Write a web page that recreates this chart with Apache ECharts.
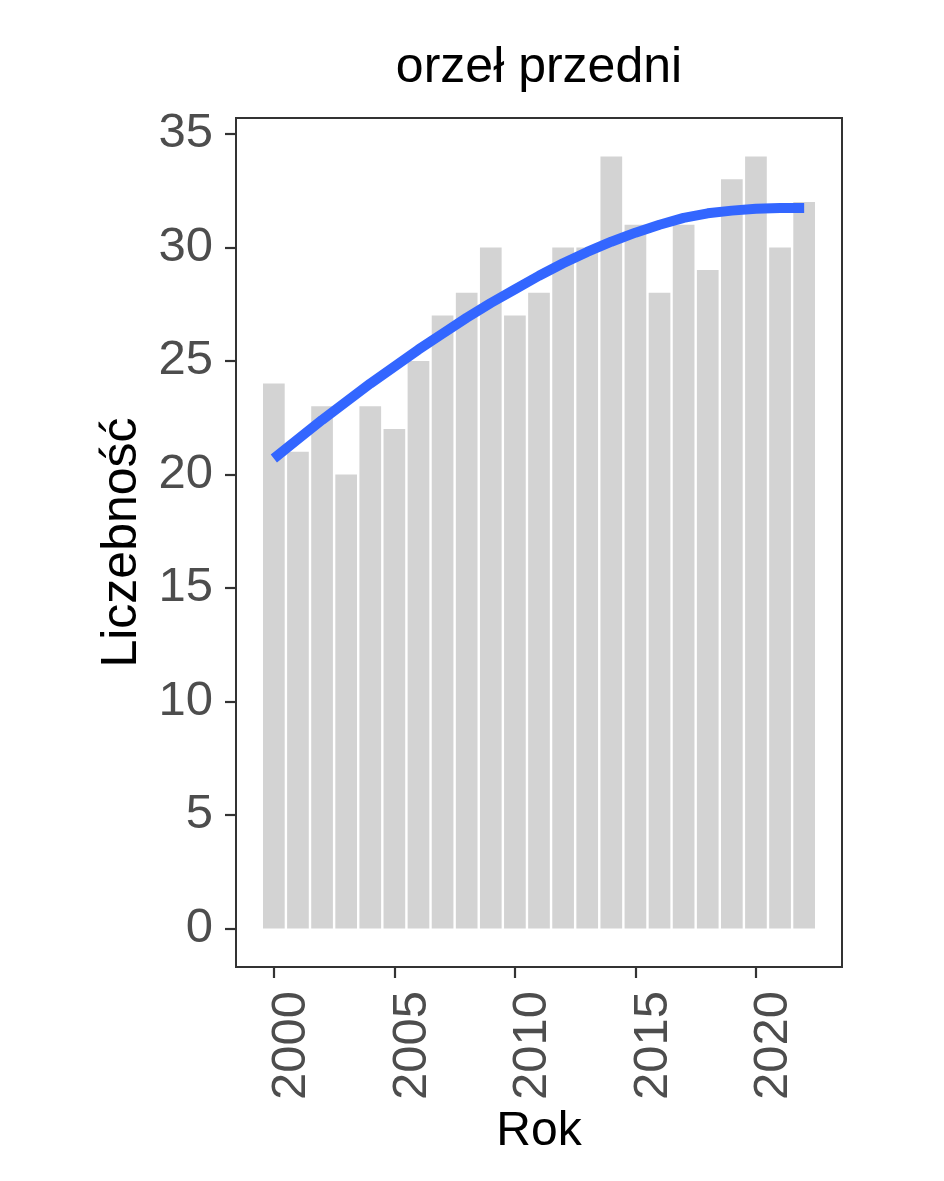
<!DOCTYPE html>
<html>
<head>
<meta charset="utf-8">
<script src="https://cdn.jsdelivr.net/npm/echarts@6/dist/echarts.min.js"></script>
<style>
  html, body { margin: 0; padding: 0; background: #ffffff; }
  #chart { width: 944px; height: 1181px; }
</style>
</head>
<body>
<div id="chart"></div>
<script>
// ---- data ----
const years = [2000, 2001, 2002, 2003, 2004, 2005, 2006, 2007, 2008, 2009, 2010, 2011,
               2012, 2013, 2014, 2015, 2016, 2017, 2018, 2019, 2020, 2021, 2022];
const counts = [24, 21, 23, 20, 23, 22, 25, 27, 28, 30, 27, 28,
                30, 30, 34, 31, 28, 31, 29, 33, 34, 30, 32];
const trend = [20.7, 21.55, 22.4, 23.2, 24.0, 24.75, 25.5, 26.2, 26.9, 27.55, 28.15, 28.75,
               29.3, 29.8, 30.25, 30.65, 31.0, 31.3, 31.5, 31.62, 31.7, 31.73, 31.73];
const xTicks = [2000, 2005, 2010, 2015, 2020];
const yTicks = [0, 5, 10, 15, 20, 25, 30, 35];
const titleText = 'orzeł przedni';
const xName = 'Rok';
const yName = 'Liczebność';

const FONT = '"Liberation Sans", Arial, sans-serif';
const chart = echarts.init(document.getElementById('chart'), null, { renderer: 'canvas' });

const gridL = 236, gridR = 842, gridT = 118, gridB = 967;

chart.setOption({
  backgroundColor: '#ffffff',
  animation: false,
  textStyle: { fontFamily: FONT },
  grid: {
    left: gridL, top: gridT, width: gridR - gridL, height: gridB - gridT,
    show: true, borderColor: '#333333', borderWidth: 2, backgroundColor: '#ffffff',
    containLabel: false, outerBoundsMode: 'none'
  },
  graphic: [{
    type: 'text', x: (gridL + gridR) / 2, y: 68,
    style: { text: titleText, fontFamily: FONT, fontSize: 50, fill: '#000000',
             textAlign: 'center', textVerticalAlign: 'middle' }
  }],
  xAxis: {
    type: 'value', min: 1998.43, max: 2023.57,
    splitLine: { show: false },
    axisLine: { show: false, onZero: false },
    axisTick: { show: true, inside: false, length: 11, customValues: xTicks,
                lineStyle: { color: '#333333', width: 2.2 } },
    axisLabel: { show: true, customValues: xTicks, rotate: 90, margin: 24,
                 fontSize: 49, color: '#4D4D4D', fontFamily: FONT,
                 verticalAlign: 'top', lineHeight: 36,
                 formatter: v => String(v) },
    name: xName, nameLocation: 'middle', nameGap: 136,
    nameTextStyle: { fontSize: 48, color: '#000000', fontFamily: FONT }
  },
  yAxis: {
    type: 'value', min: -1.7, max: 35.7,
    splitLine: { show: false },
    axisLine: { show: false, onZero: false },
    axisTick: { show: true, inside: false, length: 11, customValues: yTicks,
                lineStyle: { color: '#333333', width: 2.2 } },
    axisLabel: { show: true, customValues: yTicks, margin: 23,
                 fontSize: 49, color: '#4D4D4D', fontFamily: FONT,
                 formatter: v => String(v) },
    name: yName, nameLocation: 'middle', nameGap: 88, nameRotate: 90,
    nameTextStyle: { fontSize: 50, color: '#000000', fontFamily: FONT }
  },
  series: [
    {
      type: 'bar',
      data: years.map((y, i) => [y, counts[i]]),
      barWidth: '90%',
      itemStyle: { color: '#D3D3D3' },
      z: 2
    },
    {
      type: 'line',
      data: years.map((y, i) => [y, trend[i]]),
      smooth: false,
      showSymbol: false,
      lineStyle: { color: '#3366FF', width: 10, cap: 'butt', join: 'round' },
      z: 3
    }
  ]
});
</script>
</body>
</html>
